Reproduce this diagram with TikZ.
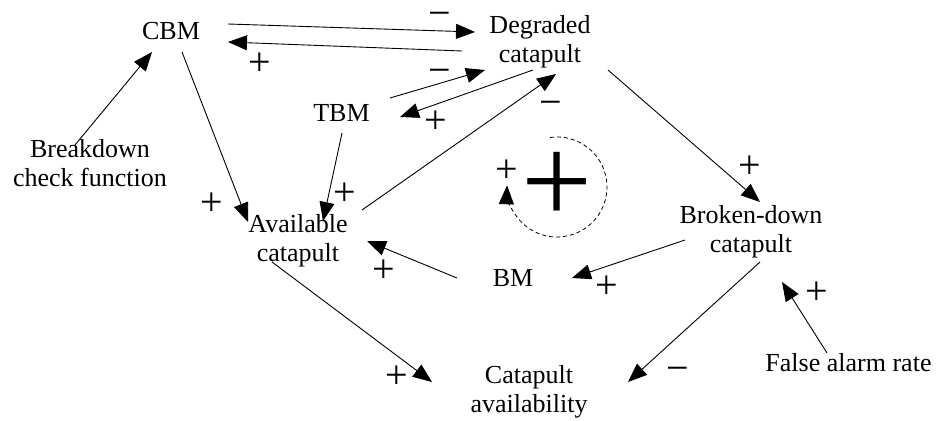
\documentclass[tikz,border=0pt]{standalone}
\usepackage{fontspec}
\setmainfont{Liberation Serif}
\usetikzlibrary{arrows.meta}
\begin{document}
\begin{tikzpicture}[x=1pt,y=1pt,
  lbl/.style={inner sep=0pt, align=center, font=\fontsize{26}{29}\selectfont},
  sgn/.style={inner sep=0pt, font=\fontsize{40}{40}\selectfont},
  link/.style={line width=0.9pt, -{Triangle[length=19pt,width=15pt]}},
  loopline/.style={line width=0.8pt, dash pattern=on 4pt off 3pt, -{Triangle[length=19pt,width=15pt]}},
]
\useasboundingbox (0,0) rectangle (936,-420);

% variables
\node[lbl] (cbm) at (171,-31.5) {CBM};
\node[lbl] (deg) at (540,-42) {Degraded\\catapult};
\node[lbl] (tbm) at (341.5,-113) {TBM};
\node[lbl] (bcf) at (90,-163.5) {Breakdown\\check function};
\node[lbl] (avl) at (298,-240.5) {Available\\catapult};
\node[lbl] (bm) at (513,-278) {BM};
\node[lbl] (brk) at (751,-232) {Broken-down\\catapult};
\node[lbl] (cav) at (529,-391.5) {Catapult\\availability};
\node[lbl] (far) at (848.5,-363) {False alarm rate};

% causal links
\draw[link] ([shift={(57,7.5)}]cbm.center) -- ([shift={(-65,10)}]deg.center);
\draw[link] ([shift={(-78,-9)}]deg.center) -- ([shift={(57,-10.5)}]cbm.center);
\draw[link] ([shift={(48.5,15)}]tbm.center) -- ([shift={(-55,-28)}]deg.center);
\draw[link] ([shift={(-7,-28)}]deg.center) -- ([shift={(58.5,-4)}]tbm.center);
\draw[link] ([shift={(64,30.5)}]avl.center) -- ([shift={(16,-32)}]deg.center);
\draw[link] ([shift={(0.5,-20)}]tbm.center) -- ([shift={(25,19.5)}]avl.center);
\draw[link] ([shift={(11,-20.5)}]cbm.center) -- ([shift={(-50,18.5)}]avl.center);
\draw[link] ([shift={(-15,18.5)}]bcf.center) -- ([shift={(-19,-20.5)}]cbm.center);
\draw[link] ([shift={(68,-28)}]deg.center) -- ([shift={(9,30)}]brk.center);
\draw[link] ([shift={(-66,-8)}]brk.center) -- ([shift={(59,0)}]bm.center);
\draw[link] ([shift={(-56,0)}]bm.center) -- ([shift={(69,-0.5)}]avl.center);
\draw[link] ([shift={(9,-30)}]brk.center) -- ([shift={(99,9.5)}]cav.center);
\draw[link] ([shift={(-21.5,10)}]far.center) -- ([shift={(31,-50)}]brk.center);
\draw[link] ([shift={(-26,-21.5)}]avl.center) -- ([shift={(-97,9.5)}]cav.center);

% link polarities (minus boxes sit 4.4pt lower so the bar lands on the axis)
\node[sgn] (s1) at (440,-19.4) {−};
\node[sgn] (s2) at (260,-64) {+};
\node[sgn] (s3) at (440,-76.4) {−};
\node[sgn] (s4) at (436,-122) {+};
\node[sgn] (s5) at (551,-108.4) {−};
\node[sgn] (s6) at (345,-194) {+};
\node[sgn] (s7) at (212,-204) {+};
\node[sgn] (s9) at (750,-167) {+};
\node[sgn] (s10) at (607,-287) {+};
\node[sgn] (s11) at (384,-271) {+};
\node[sgn] (s12) at (678,-374.4) {−};
\node[sgn] (s13) at (817,-293) {+};
\node[sgn] (s14) at (397,-377) {+};

% reinforcing loop marker
\coordinate (loopc) at (557,-187);
\draw[loopline] ([shift={(98:50)}]loopc) arc[start angle=98, end angle=-182, radius=50];
\node[sgn] (sloop) at (507,-171) {+};
\node[inner sep=0pt, font=\fontsize{126}{126}\selectfont] (bigplus) at (557,-188) {+};
\end{tikzpicture}
\end{document}
